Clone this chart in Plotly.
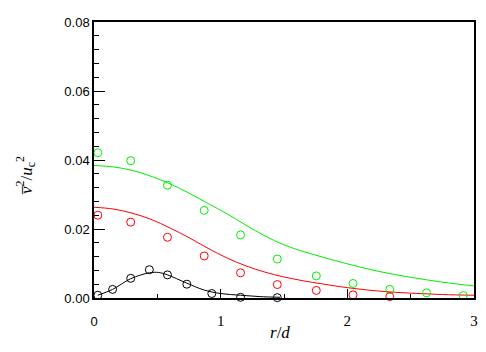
import plotly.graph_objects as go

# measured points (open circles)
green_x = [0.03, 0.29, 0.58, 0.87, 1.157, 1.447, 1.755, 2.045, 2.335, 2.625, 2.915]
green_y = [0.0421, 0.0398, 0.0327, 0.0254, 0.0183, 0.0113, 0.0064, 0.0042, 0.0025, 0.0015, 0.0007]
red_x = [0.03, 0.29, 0.58, 0.87, 1.157, 1.447, 1.755, 2.045, 2.335]
red_y = [0.0240, 0.0220, 0.0176, 0.0122, 0.0073, 0.0039, 0.0022, 0.0009, 0.0004]
black_x = [0.03, 0.147, 0.29, 0.437, 0.58, 0.733, 0.93, 1.157, 1.447]
black_y = [0.0008, 0.0025, 0.0057, 0.0082, 0.0067, 0.0040, 0.0013, 0.0002, 0.0001]

# fitted curves (solid lines)
gline_x = [0.0, 0.15, 0.3, 0.45, 0.6, 0.75, 0.9, 1.05, 1.2, 1.35, 1.5, 1.65, 1.8, 2.0, 2.25, 2.5, 2.75, 3.0]
gline_y = [0.0384, 0.0380, 0.0370, 0.0353, 0.0331, 0.0304, 0.0274, 0.0244, 0.0211, 0.0180, 0.0154,
           0.0135, 0.0119, 0.0099, 0.0077, 0.0060, 0.0046, 0.0035]
rline_x = [0.0, 0.15, 0.3, 0.45, 0.6, 0.75, 0.9, 1.05, 1.2, 1.35, 1.5, 1.65, 1.8, 2.0, 2.25, 2.5, 2.75, 3.0]
rline_y = [0.0263, 0.0258, 0.0246, 0.0228, 0.0203, 0.0175, 0.0144, 0.0116, 0.0093, 0.0075, 0.0061,
           0.0050, 0.0041, 0.0030, 0.0020, 0.0014, 0.0010, 0.0008]
bline_x = [0.03, 0.147, 0.29, 0.437, 0.51, 0.58, 0.733, 0.87, 1.0, 1.157, 1.31, 1.47]
bline_y = [0.0008, 0.0025, 0.0056, 0.0073, 0.0074, 0.0067, 0.0043, 0.0023, 0.0013, 0.0008, 0.0004, 0.0002]

x_ticks = [0, 1, 2, 3]
y_ticks = [0.00, 0.02, 0.04, 0.06, 0.08]
y_tick_labels = ["0.00", "0.02", "0.04", "0.06", "0.08"]

fig = go.Figure()
for lx, ly, c in [(gline_x, gline_y, "#00ee00"), (rline_x, rline_y, "#ff0000"), (bline_x, bline_y, "#000000")]:
    fig.add_trace(go.Scatter(x=lx, y=ly, mode="lines", line=dict(color=c, width=1, shape="spline"),
                             showlegend=False, hoverinfo="skip"))
for px, py, c in [(green_x, green_y, "#00ee00"), (red_x, red_y, "#ff0000"), (black_x, black_y, "#000000")]:
    fig.add_trace(go.Scatter(x=px, y=py, mode="markers",
                             marker=dict(symbol="circle-open", size=8, color=c, line=dict(width=1, color=c)),
                             showlegend=False, cliponaxis=False))

x_text = ["<span style='font-family:Liberation Sans;font-size:13px'>0</span>", "1", "2", "3"]

fig.update_layout(
    width=478, height=344,
    margin=dict(l=86, r=12, t=7, b=54),
    paper_bgcolor="white", plot_bgcolor="white",
    xaxis=dict(range=[0, 3], tickvals=x_ticks, ticktext=x_text, ticks="inside", ticklen=9, tickwidth=1,
               tickcolor="black", showline=True, linecolor="black", linewidth=1.5, mirror=True,
               showgrid=False, zeroline=False, ticklabelstandoff=8,
               tickfont=dict(family="Liberation Serif", size=15, color="black"),
               minor=dict(dtick=0.5, ticks="inside", ticklen=4, tickcolor="black", tickwidth=1)),
    yaxis=dict(range=[0, 0.08], tickvals=y_ticks, ticktext=y_tick_labels, ticks="inside", ticklen=11,
               tickwidth=1, tickcolor="black", showline=True, linecolor="black", linewidth=1.5,
               mirror=True, showgrid=False, zeroline=False,
               tickfont=dict(family="Liberation Sans", size=13, color="black"),
               minor=dict(dtick=0.004, ticks="inside", ticklen=5, tickcolor="black", tickwidth=1)),
    annotations=[
        dict(text="<i>r</i>/<i>d</i>", x=0.49, y=-0.124, xref="paper", yref="paper",
             showarrow=False, xanchor="center", yanchor="middle",
             font=dict(family="Liberation Serif", size=17, color="black")),
        dict(text="<i>v\u0305</i><sup>2</sup>/<i>u</i><sub>c</sub><sup>2</sup>", x=-0.18, y=0.445,
             xref="paper", yref="paper", showarrow=False, textangle=-90,
             xanchor="center", yanchor="middle",
             font=dict(family="Liberation Serif", size=17, color="black")),
    ],
)

fig.write_html("out.html")
